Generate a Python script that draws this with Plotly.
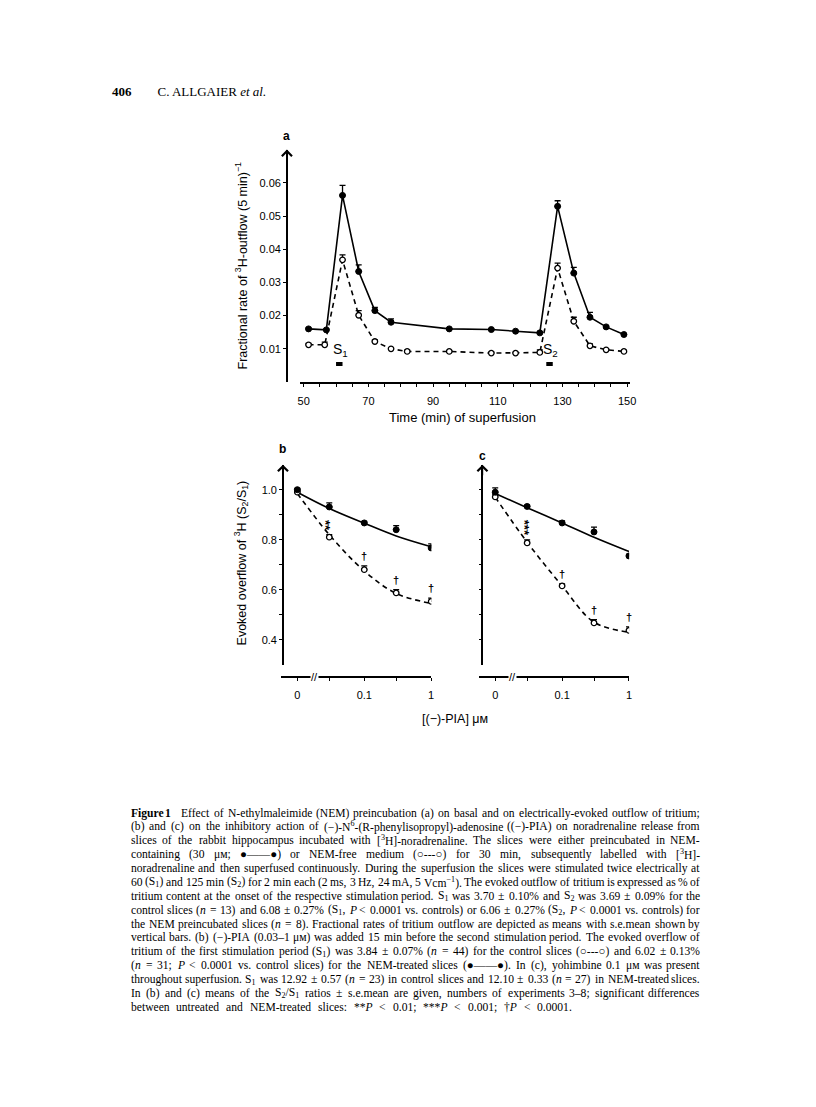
import math
import re
import plotly.graph_objects as go

W, H = 816, 1107

# ---- panel a: fractional rate of 3H-outflow during superfusion ----
TIME_NEM = [51.5, 57, 62, 67, 72, 77, 95, 108, 115.5, 123, 128.5, 133.5, 138.5, 143.5, 149]
RATE_NEM = [0.0160, 0.0157, 0.0562, 0.0333, 0.0215, 0.0180, 0.0160, 0.0158, 0.0153, 0.0148,
            0.0529, 0.0328, 0.0195, 0.0166, 0.0143]
ERR_NEM = [0.0003, 0.0003, 0.0030, 0.0020, 0.0010, 0.0010, 0.0002, 0.0002, 0.0002, 0.0002,
           0.0017, 0.0017, 0.0015, 0.0003, 0.0002]

TIME_CTRL = [51.5, 56.5, 62, 67, 72, 77, 82, 95, 108, 115.5, 123, 128.5, 133.5, 138.5, 143.5, 149]
RATE_CTRL = [0.0112, 0.0112, 0.0368, 0.0201, 0.0122, 0.0100, 0.0092, 0.0092, 0.0087, 0.0087,
             0.0089, 0.0343, 0.0183, 0.0109, 0.0097, 0.0092]
ERR_CTRL = [0.0004, 0.0008, 0.0015, 0.0014, 0.0005, 0.0003, 0.0004, 0.0002, 0.0003, 0.0002,
            0.0008, 0.0015, 0.0012, 0.0006, 0.0003, 0.0003]

STIM_START = [60, 125]  # S1, S2, 2 min each
STIM_NAMES = ["S<sub>1</sub>", "S<sub>2</sub>"]
TIME_TICKS = [50, 70, 90, 110, 130, 150]
RATE_TICKS = [0.01, 0.02, 0.03, 0.04, 0.05, 0.06]

# ---- panels b and c: (-)-PIA concentration response ----
PIA_CONC = [0, 0.03, 0.1, 0.3, 1]
PIA_LABELS = ["0", "", "0.1", "", "1"]
RATIO_TICKS = [0.4, 0.5, 0.6, 0.7, 0.8, 0.9, 1.0]
RATIO_LABELS = ["0.4", "", "0.6", "", "0.8", "", "1.0"]

B_NEM = [1.00, 0.931, 0.867, 0.840, 0.767]
B_NEM_ERR = [0.005, 0.016, 0.006, 0.016, 0.016]
B_NEM_FIT = [0.990, 0.925, 0.866, 0.815, 0.772]
B_CTRL = [0.990, 0.810, 0.680, 0.587, 0.553]
B_CTRL_ERR = [0.005, 0.010, 0.015, 0.013, 0.013]
B_CTRL_FIT = [0.985, 0.820, 0.675, 0.585, 0.545]
B_SIG = ["", "**", "†", "†", "†"]

C_NEM = [0.990, 0.933, 0.867, 0.831, 0.735]
C_NEM_ERR = [0.017, 0.005, 0.008, 0.019, 0.006]
C_NEM_FIT = [0.985, 0.928, 0.867, 0.810, 0.753]
C_CTRL = [0.971, 0.787, 0.615, 0.467, 0.437]
C_CTRL_ERR = [0.010, 0.012, 0.008, 0.013, 0.014]
C_CTRL_FIT = [0.970, 0.790, 0.615, 0.470, 0.430]
C_SIG = ["", "***", "†", "†", "†"]

ZERO_AT = 0.01      # where "0" sits on the log axis
BREAK_AT = 0.018    # axis break mark

# caption, one printed line per entry (tags never span a space)
CAPTION = [
    "<b>Figure</b> <b>1</b>&nbsp;&nbsp; Effect of N-ethylmaleimide (NEM) preincubation (a) on basal and on electrically-evoked outflow of tritium;",
    "(b) and (c) on the inhibitory action of (−)-N<sup>6</sup>-(R-phenylisopropyl)-adenosine ((−)-PIA) on noradrenaline release from",
    "slices of the rabbit hippocampus incubated with [<sup>3</sup>H]-noradrenaline. The slices were either preincubated in NEM-",
    "containing (30 μм; ●——●) or NEM-free medium (○---○) for 30 min, subsequently labelled with [<sup>3</sup>H]-",
    "noradrenaline and then superfused continuously. During the superfusion the slices were stimulated twice electrically at",
    "60 (S<sub>1</sub>) and 125 min (S<sub>2</sub>) for 2 min each (2 ms, 3 Hz, 24 mA, 5 Vcm<sup>−1</sup>). The evoked outflow of tritium is expressed as % of",
    "tritium content at the onset of the respective stimulation period. S<sub>1</sub> was 3.70 ± 0.10% and S<sub>2</sub> was 3.69 ± 0.09% for the",
    "control slices (<i>n</i> = 13) and 6.08 ± 0.27% (S<sub>1</sub>, <i>P</i> &lt; 0.0001 vs. controls) or 6.06 ± 0.27% (S<sub>2</sub>, <i>P</i> &lt; 0.0001 vs. controls) for",
    "the NEM preincubated slices (<i>n</i> = 8). Fractional rates of tritium outflow are depicted as means with s.e.mean shown by",
    "vertical bars. (b) (−)-PIA (0.03–1 μм) was added 15 min before the second stimulation period. The evoked overflow of",
    "tritium of the first stimulation period (S<sub>1</sub>) was 3.84 ± 0.07% (<i>n</i> = 44) for the control slices (○---○) and 6.02 ± 0.13%",
    "(<i>n</i> = 31; <i>P</i> &lt; 0.0001 vs. control slices) for the NEM-treated slices (●——●). In (c), yohimbine 0.1 μм was present",
    "throughout superfusion. S<sub>1</sub> was 12.92 ± 0.57 (<i>n</i> = 23) in control slices and 12.10 ± 0.33 (<i>n</i> = 27) in NEM-treated slices.",
    "In (b) and (c) means of the S<sub>2</sub>/S<sub>1</sub> ratios ± s.e.mean are given, numbers of experiments 3–8; significant differences",
    "between untreated and NEM-treated slices: **<i>P</i> &lt; 0.01; ***<i>P</i> &lt; 0.001; †<i>P</i> &lt; 0.0001.",
]


def fx(px):
    return px / W


def fy(px):
    return 1 - px / H


SANS = "Liberation Sans"
SERIF = "Liberation Serif"
INK = "black"

fig = go.Figure()


def marker(filled):
    if filled:
        return dict(symbol="circle", size=6, color=INK, line=dict(color=INK, width=1))
    return dict(symbol="circle", size=5.5, color="white", line=dict(color=INK, width=1.3))


def errors(err):
    return dict(type="data", array=err, arrayminus=[0] * len(err), symmetric=False,
                color=INK, thickness=1.3, width=3)


# panel a
fig.add_trace(go.Scatter(x=TIME_NEM, y=RATE_NEM, mode="lines+markers",
                         line=dict(color=INK, width=1.6), marker=marker(True),
                         error_y=errors(ERR_NEM), xaxis="x", yaxis="y"))
fig.add_trace(go.Scatter(x=TIME_CTRL, y=RATE_CTRL, mode="lines+markers",
                         line=dict(color=INK, width=1.6, dash="5px,4px"), marker=marker(False),
                         error_y=errors(ERR_CTRL), xaxis="x", yaxis="y"))

BAR_LEVEL = 0.0054
for start, name in zip(STIM_START, STIM_NAMES):
    fig.add_shape(type="line", xref="x", yref="y", x0=start, x1=start + 2,
                  y0=BAR_LEVEL, y1=BAR_LEVEL, line=dict(color=INK, width=4))
    fig.add_annotation(xref="x", yref="y", x=start + 1.3, y=BAR_LEVEL, yshift=14,
                       text=name, showarrow=False, font=dict(family=SANS, size=14, color=INK))

# panels b and c
conc_pos = [c if c > 0 else ZERO_AT for c in PIA_CONC]
panels = [
    ("x2", "y2", B_NEM, B_NEM_ERR, B_NEM_FIT, B_CTRL, B_CTRL_ERR, B_CTRL_FIT, B_SIG),
    ("x3", "y3", C_NEM, C_NEM_ERR, C_NEM_FIT, C_CTRL, C_CTRL_ERR, C_CTRL_FIT, C_SIG),
]
for xa, ya, nem, nem_err, nem_fit, ctrl, ctrl_err, ctrl_fit, sig in panels:
    fig.add_trace(go.Scatter(x=conc_pos, y=nem_fit, mode="lines", line_shape="spline",
                             line=dict(color=INK, width=1.6), xaxis=xa, yaxis=ya))
    fig.add_trace(go.Scatter(x=conc_pos, y=ctrl_fit, mode="lines", line_shape="spline",
                             line=dict(color=INK, width=1.6, dash="5px,4px"), xaxis=xa, yaxis=ya))
    fig.add_trace(go.Scatter(x=conc_pos, y=ctrl, mode="markers", marker=marker(False),
                             error_y=errors(ctrl_err), xaxis=xa, yaxis=ya))
    fig.add_trace(go.Scatter(x=conc_pos, y=nem, mode="markers", marker=marker(True),
                             error_y=errors(nem_err), xaxis=xa, yaxis=ya))
    for c, v, e, s in zip(conc_pos, ctrl, ctrl_err, sig):
        if not s:
            continue
        stars = s.startswith("*")
        # stacked asterisks: the string is turned on its side so they sit one above the other
        fig.add_annotation(xref=xa, yref=ya, x=math.log10(c), y=v + e, yanchor="bottom",
                           xanchor="center", yshift=2, xshift=-3 if stars else 0,
                           textangle=90 if stars else 0, text=f"<b>{s}</b>", showarrow=False,
                           font=dict(family=SANS, size=13 if stars else 11, color=INK))
    fig.add_annotation(xref=xa, yref="paper", x=math.log10(BREAK_AT), y=fy(669), text="//",
                       showarrow=False, bgcolor="white", borderpad=0,
                       xanchor="center", yanchor="middle",
                       font=dict(family=SANS, size=11, color=INK))

axis = dict(showline=True, linecolor=INK, linewidth=1.6, ticks="outside", tickcolor=INK,
            tickwidth=1.4, ticklen=3, showgrid=False, zeroline=False,
            tickfont=dict(family=SANS, size=11, color=INK))

fig.update_layout(
    width=W, height=H, margin=dict(l=0, r=0, t=0, b=0),
    paper_bgcolor="white", plot_bgcolor="white", showlegend=False,
    xaxis=dict(axis, domain=[fx(292.7), fx(626.3)], range=[49, 151], anchor="y",
               tickvals=TIME_TICKS, ticklabelstandoff=5,
               minor=dict(dtick=5, tick0=50, ticks="outside", ticklen=3, tickcolor=INK, tickwidth=1.4)),
    yaxis=dict(axis, domain=[fy(374), fy(141.6)], range=[0, 0.07], anchor="free",
               position=fx(279), tickvals=RATE_TICKS, tickformat=".2f"),
    xaxis2=dict(axis, type="log", domain=[fx(273.3), fx(425)], range=[-2.24, 0.002],
                anchor="free", position=fy(669), tickvals=conc_pos, ticktext=PIA_LABELS,
                ticklabelstandoff=5),
    yaxis2=dict(axis, domain=[fy(656.7), fy(456.7)], range=[0.3, 1.1], anchor="free",
                position=fx(275), tickvals=RATIO_TICKS, ticktext=RATIO_LABELS),
    xaxis3=dict(axis, type="log", domain=[fx(473.4), fx(625)], range=[-2.24, 0.002],
                anchor="free", position=fy(669), tickvals=conc_pos, ticktext=PIA_LABELS,
                ticklabelstandoff=5),
    yaxis3=dict(axis, domain=[fy(656.7), fy(456.7)], range=[0.3, 1.1], anchor="free",
                position=fx(476.7), tickvals=RATIO_TICKS, showticklabels=False),
)

# arrow heads on the y axes
for xp, top in [(279, 141.6), (275, 456.7), (476.7, 456.7)]:
    fig.add_annotation(xref="paper", yref="paper", x=fx(xp), y=fy(top), ax=0, ay=12,
                       text="", showarrow=True, arrowhead=4, arrowsize=1.3, arrowwidth=1.5,
                       arrowcolor=INK)

labels = [
    ("a", 279, 128, 0, 12, True),
    ("b", 275, 441, 0, 12, True),
    ("c", 476.7, 448, 0, 12, True),
    ("Fractional rate of <sup>3</sup>H-outflow (5 min)<sup>−1</sup>", 233, 258, -90, 12.5, False),
    ("Time (min) of superfusion", 457, 409, 0, 13, False),
    ("Evoked overflow of <sup>3</sup>H (S<sub>2</sub>/S<sub>1</sub>)", 233, 555, -90, 12.5, False),
    ("[(−)-PIA] μм", 449, 711, 0, 12.5, False),
]
for text, xp, yp, ang, size, bold in labels:
    fig.add_annotation(xref="paper", yref="paper", x=fx(xp), y=fy(yp),
                       xanchor="center", yanchor="middle",
                       text=f"<b>{text}</b>" if bold else text,
                       textangle=ang, showarrow=False, font=dict(family=SANS, size=size, color=INK))

# running head
fig.add_annotation(xref="paper", yref="paper", x=fx(100), y=fy(83), xanchor="left", yanchor="middle",
                   text="<b>406</b>" + "&nbsp;" * 8 + "C. ALLGAIER <i>et al.</i>",
                   showarrow=False, font=dict(family=SERIF, size=13, color=INK))

# caption, set justified: word widths estimated from Times metrics (Liberation Serif matches them)
TIMES = {}
for chars, w in [("|", 200), (" ,.", 250), ("ijlt/:;", 278), ("frI()[]-'!", 333), ("sJ", 389),
                 ("acez?", 444), ("bdghknopquvxy0123456789*_$#†μ–", 500), ("FPS", 556),
                 ("+<=>±−", 564), ("●○", 604), ("ELTZ", 611), ("м", 640), ("BCR", 667),
                 ("ADGHKNOQUVXYw", 722), ("m&", 778), ("%", 833), ("M", 889), ("W", 944), ("—", 1000)]:
    for ch in chars:
        TIMES[ch] = w


def word_width(word, size):
    total, scale = 0.0, 1.0
    for tok in re.findall(r"<[^>]+>|&[a-z]+;|.", word):
        if tok in ("<sub>", "<sup>"):
            scale = 0.7
        elif tok in ("</sub>", "</sup>"):
            scale = 1.0
        elif not tok.startswith("<"):
            ch = {"&lt;": "<", "&nbsp;": " "}.get(tok, tok)
            total += TIMES.get(ch, 500) * scale
    return total * size / 1000


CAP_LEFT, CAP_RIGHT, LAST_RIGHT = 121, 697, 567
CAP_TOP, CAP_LEAD, CAP_SIZE = 805, 13.88, 11.6

for i, line in enumerate(CAPTION):
    words = line.split(" ")
    widths = [word_width(w, CAP_SIZE) for w in words]
    right_edge = LAST_RIGHT if i == len(CAPTION) - 1 else CAP_RIGHT
    gap = (right_edge - CAP_LEFT - sum(widths)) / (len(words) - 1)
    x = CAP_LEFT
    for j, (word, wd) in enumerate(zip(words, widths)):
        last_word = j == len(words) - 1
        fig.add_annotation(xref="paper", yref="paper",
                           x=fx(right_edge if last_word else x), y=fy(CAP_TOP + i * CAP_LEAD),
                           xanchor="right" if last_word else "left", yanchor="middle",
                           text=word, showarrow=False, borderpad=0, borderwidth=0,
                           font=dict(family=SERIF, size=CAP_SIZE, color=INK))
        x += wd + gap

fig.write_html("out.html")
